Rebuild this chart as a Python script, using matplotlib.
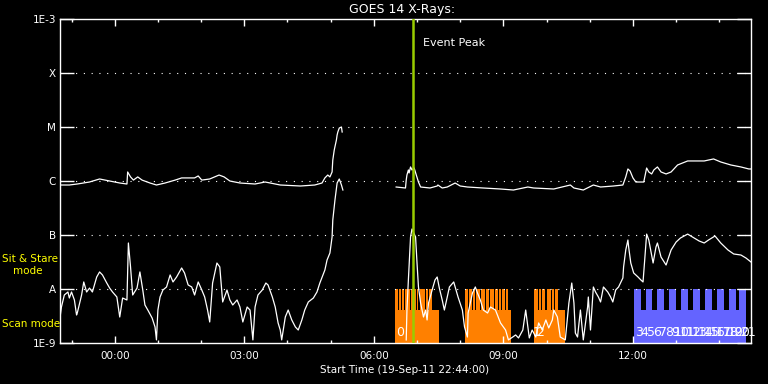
import numpy as np
import matplotlib
matplotlib.use('Agg')
import matplotlib.pyplot as plt
from matplotlib.ticker import NullLocator, FixedLocator

# time in minutes after 00:00 (20-Sep-11), flux in W/m^2
# 1-8 A channel, before and after the data gap
long_t1 = [-77, -63, -52, -35, -21, -7, 7, 17, 18, 22, 26, 32, 38, 49, 58, 70, 84, 93, 111, 116,
           121, 132, 145, 152, 160, 174, 195, 209, 230, 258, 278, 288, 292, 296, 299, 302, 303, 305,
           308, 309, 310, 312, 315, 316]
long_f1 = [8.43e-7, 8.43e-7, 8.80e-7, 9.58e-7, 1.09e-6, 1.00e-6, 9.18e-7, 8.80e-7, 1.47e-6, 1.19e-6,
           1.04e-6, 1.19e-6, 1.04e-6, 9.18e-7, 8.43e-7, 9.18e-7, 1.04e-6, 1.14e-6, 1.14e-6, 1.24e-6,
           1.04e-6, 1.09e-6, 1.29e-6, 1.19e-6, 1.00e-6, 9.18e-7, 8.80e-7, 9.58e-7, 8.43e-7, 8.08e-7,
           8.43e-7, 9.18e-7, 1.14e-6, 1.29e-6, 1.19e-6, 1.47e-6, 2.45e-6, 3.75e-6, 5.75e-6, 7.11e-6,
           8.08e-6, 9.58e-6, 1.00e-5, 8.08e-6]
long_t2 = [391, 404, 405, 406, 408, 409, 411, 413, 416, 419, 422, 425, 438, 448, 449, 455, 462, 473,
           480, 490, 512, 536, 554, 574, 582, 610, 633, 638, 651, 665, 675, 693, 706, 710, 713, 716,
           720, 724, 735, 739, 742, 746, 749, 754, 759, 766, 773, 782, 796, 807, 819, 832, 842, 856,
           870, 881, 885]
long_f2 = [7.74e-7, 7.42e-7, 1.04e-6, 1.29e-6, 1.60e-6, 1.41e-6, 1.82e-6, 1.60e-6, 1.74e-6, 1.29e-6,
           9.58e-7, 7.74e-7, 7.42e-7, 8.08e-7, 8.43e-7, 7.42e-7, 7.74e-7, 9.18e-7, 8.08e-7, 7.74e-7,
           7.42e-7, 7.11e-7, 6.81e-7, 7.74e-7, 7.42e-7, 7.11e-7, 8.43e-7, 7.42e-7, 6.81e-7, 8.43e-7,
           7.74e-7, 8.08e-7, 8.43e-7, 1.19e-6, 1.67e-6, 1.53e-6, 1.14e-6, 9.58e-7, 9.58e-7, 1.74e-6,
           1.47e-6, 1.35e-6, 1.60e-6, 1.82e-6, 1.47e-6, 1.35e-6, 1.47e-6, 1.98e-6, 2.35e-6, 2.35e-6,
           2.35e-6, 2.56e-6, 2.25e-6, 1.98e-6, 1.82e-6, 1.67e-6, 1.67e-6]

# 0.5-4 A channel
short_t1 = [-77, -74, -70, -65, -63, -60, -56, -53, -52, -46, -43, -39, -35, -31, -25, -21, -17, -11,
            -7, -3, 3, 7, 11, 17, 19, 22, 25, 31, 35, 39, 42, 46, 52, 56, 58, 60, 63, 67, 72, 77,
            81, 86, 93, 97, 102, 107, 111, 116, 121, 125, 129, 132, 136, 142, 146, 150, 156, 160,
            164, 170, 174, 178, 184, 188, 192, 195, 199, 205, 210, 213, 219, 223, 227, 230, 232,
            237, 241, 246, 251, 255, 260, 264, 269, 276, 281, 285, 292, 295, 299, 302, 303, 306,
            309, 312, 315, 317]
short_f1 = [2.35e-9, 4.64e-9, 7.74e-9, 8.80e-9, 6.81e-9, 8.80e-9, 6.26e-9, 3.30e-9, 3.59e-9, 7.74e-9,
            1.35e-8, 8.80e-9, 1.04e-8, 8.80e-9, 1.67e-8, 2.07e-8, 1.82e-8, 1.29e-8, 1.04e-8, 8.80e-9,
            7.11e-9, 3.03e-9, 6.81e-9, 6.26e-9, 7.11e-8, 2.56e-8, 7.74e-9, 1.04e-8, 2.07e-8, 9.58e-9,
            5.06e-9, 4.08e-9, 2.90e-9, 1.98e-9, 1.14e-9, 4.08e-9, 7.11e-9, 9.58e-9, 1.09e-8, 1.82e-8,
            1.35e-8, 1.67e-8, 2.45e-8, 1.98e-8, 1.19e-8, 1.09e-8, 7.74e-9, 1.35e-8, 9.58e-9, 7.11e-9,
            4.08e-9, 2.45e-9, 1.29e-8, 3.03e-8, 2.56e-8, 5.75e-9, 9.58e-9, 6.26e-9, 5.06e-9, 6.26e-9,
            4.64e-9, 2.45e-9, 4.64e-9, 4.08e-9, 1.14e-9, 4.64e-9, 7.74e-9, 9.58e-9, 1.29e-8, 1.19e-8,
            7.11e-9, 4.64e-9, 2.35e-9, 1.74e-9, 1.14e-9, 3.03e-9, 4.08e-9, 2.67e-9, 1.98e-9, 1.74e-9,
            2.67e-9, 4.08e-9, 5.75e-9, 6.81e-9, 8.80e-9, 1.29e-8, 2.25e-8, 3.44e-8, 4.64e-8, 9.18e-8,
            1.90e-7, 4.45e-7, 9.18e-7, 1.09e-6, 8.43e-7, 6.81e-7]
short_t2 = [405, 406, 408, 411, 413, 418, 420, 422, 425, 429, 432, 434, 436, 441, 445, 448, 451, 455,
            458, 462, 465, 471, 473, 477, 483, 486, 490, 491, 497, 501, 504, 508, 512, 518, 522, 529,
            536, 543, 547, 553, 557, 561, 567, 571, 574, 576, 580, 585, 589, 594, 599, 603, 608, 610,
            615, 619, 626, 631, 635, 638, 640, 643, 647, 651, 657, 658, 661, 665, 668, 672, 675, 679,
            685, 689, 692, 696, 700, 706, 707, 710, 713, 714, 717, 721, 727, 731, 734, 736, 739, 742,
            748, 752, 754, 759, 766, 773, 780, 786, 796, 805, 812, 819, 825, 834, 842, 852, 860, 870,
            877, 884]
short_f2 = [1.14e-9, 4.08e-9, 1.47e-8, 9.18e-8, 1.29e-7, 9.18e-8, 3.03e-8, 1.09e-8, 5.51e-9, 3.03e-9,
            4.08e-9, 2.67e-9, 5.51e-9, 9.58e-9, 1.47e-8, 1.67e-8, 1.04e-8, 6.26e-9, 4.08e-9, 7.11e-9,
            1.09e-8, 1.35e-8, 1.09e-8, 7.11e-9, 4.08e-9, 1.98e-9, 1.29e-9, 3.59e-9, 8.43e-9, 1.09e-8,
            8.43e-9, 6.26e-9, 4.08e-9, 3.59e-9, 4.64e-9, 4.08e-9, 2.35e-9, 1.74e-9, 1.14e-9, 1.29e-9,
            1.41e-9, 1.24e-9, 1.74e-9, 4.08e-9, 1.98e-9, 1.24e-9, 1.74e-9, 1.29e-9, 2.35e-9, 1.74e-9,
            2.67e-9, 1.90e-9, 2.67e-9, 4.08e-9, 3.03e-9, 1.29e-9, 1.14e-9, 5.51e-9, 1.29e-8, 5.51e-9,
            1.53e-9, 1.29e-9, 4.08e-9, 1.14e-9, 4.64e-9, 7.11e-9, 1.74e-9, 1.09e-8, 8.80e-9, 7.11e-9,
            5.75e-9, 1.09e-8, 8.80e-9, 7.11e-9, 5.75e-9, 9.58e-9, 1.09e-8, 1.60e-8, 2.56e-8, 5.28e-8,
            8.08e-8, 6.00e-8, 3.03e-8, 1.98e-8, 1.67e-8, 1.47e-8, 1.35e-8, 3.03e-8, 1.04e-7, 8.08e-8,
            3.03e-8, 6.00e-8, 7.11e-8, 3.91e-8, 2.78e-8, 5.28e-8, 7.42e-8, 8.80e-8, 1.04e-7, 8.80e-8,
            7.74e-8, 7.11e-8, 8.08e-8, 9.58e-8, 7.11e-8, 5.28e-8, 4.45e-8, 4.26e-8, 3.75e-8, 3.16e-8]

# observing mode bars
ss_base_start = [390, 487, 583]
ss_base_end = [450, 550, 626]
ss_start = [390, 394.5, 399.5, 403.5, 411.5, 419.5, 423.5, 432.5, 436.5,
            487, 492, 497.5, 502.5, 509, 515.5, 521.5, 528.5, 533.5, 538.5, 543.5,
            583, 589.5, 594, 600, 607, 611.5]
ss_end = [393, 398, 402, 410, 418, 422, 431, 435, 441,
          490.5, 496, 501, 507.5, 514, 520, 527, 532, 537, 542, 546,
          588, 592.5, 598.5, 605.5, 610, 616]
ss_labels = ['0', '1', '2']
ss_label_t = [397, 586, 591]

scan_base_start = 721
scan_base_end = 874
scan_start = [721, 737.6, 754.1, 770.7, 787.3, 803.9, 820.4, 837, 853.6, 867.5]
scan_width = 9.5
scan_labels = [str(n) for n in range(3, 22)]
scan_label_t = [728, 736, 745, 753, 762, 770, 779, 787, 796, 804, 812, 821, 829, 838, 846, 855,
                863, 872, 880]

base_top = 4.08e-9
tall_top = 1e-8
floor = 1e-9
event_t = 415

levels = [1e-9, 1e-8, 1e-7, 1e-6, 1e-5, 1e-4, 1e-3]
level_names = ['1E-9', 'A', 'B', 'C', 'M', 'X', '1E-3']
hour_ticks = [0, 180, 360, 540, 720]
hour_labels = ['00:00', '03:00', '06:00', '09:00', '12:00']

fig = plt.figure(figsize=(7.68, 3.84), dpi=100, facecolor='black')
ax = fig.add_axes([60 / 768, 41 / 384, 691 / 768, 324 / 384], facecolor='black')
ax.set_yscale('log')
ax.set_xlim(-76, 884)
ax.set_ylim(1e-9, 1e-3)

orange = '#ff8000'
blue = '#6464ff'
for s, e in zip(ss_base_start, ss_base_end):
    ax.bar(s, base_top - floor, width=e - s, bottom=floor, align='edge', color=orange, lw=0, zorder=1)
for s, e in zip(ss_start, ss_end):
    ax.bar(s, tall_top - floor, width=e - s, bottom=floor, align='edge', color=orange, lw=0, zorder=1)
ax.bar(scan_base_start, base_top - floor, width=scan_base_end - scan_base_start, bottom=floor,
       align='edge', color=blue, lw=0, zorder=1)
for s in scan_start:
    ax.bar(s, tall_top - floor, width=scan_width, bottom=floor, align='edge', color=blue, lw=0, zorder=1)

for lvl in levels[1:-1]:
    ax.axhline(lvl, color='white', lw=0.8, ls=(0, (1, 6)), zorder=2)

ax.plot(long_t1, long_f1, color='white', lw=0.9, zorder=3)
ax.plot(long_t2, long_f2, color='white', lw=0.9, zorder=3)
ax.plot(short_t1, short_f1, color='white', lw=0.9, zorder=3)
ax.plot(short_t2, short_f2, color='white', lw=0.9, zorder=3)

for t, lab in zip(ss_label_t, ss_labels):
    ax.text(t, 1.55e-9, lab, color='white', fontsize=9, ha='center', va='center', zorder=4)
for t, lab in zip(scan_label_t, scan_labels):
    ax.text(t, 1.55e-9, lab, color='white', fontsize=9, ha='center', va='center', zorder=4,
            clip_on=False)

ax.axvline(event_t, color='#99cc00', lw=1.8, zorder=5)
ax.text(event_t + 14, 3.6e-4, 'Event Peak', color='white', fontsize=8, ha='left', va='center')

for sp in ax.spines.values():
    sp.set_color('white')
    sp.set_linewidth(1.0)

ax.yaxis.set_major_locator(FixedLocator(levels))
ax.yaxis.set_minor_locator(NullLocator())
ax.set_yticklabels(level_names)
ax.tick_params(axis='y', which='major', direction='in', length=10, width=1, colors='white',
               right=True, labelsize=7.5, pad=3)
ax.set_xticks(hour_ticks)
ax.set_xticklabels(hour_labels)
ax.xaxis.set_minor_locator(FixedLocator(np.arange(-60, 900, 60)))
ax.tick_params(axis='x', which='major', direction='in', length=5, width=1, colors='white',
               top=True, labelsize=7.5, pad=6)
ax.tick_params(axis='x', which='minor', direction='in', length=2.2, width=1, colors='white', top=True)

fig.text(402 / 768, 1 - 10 / 384, 'GOES 14 X-Rays:', color='white', fontsize=9, ha='center', va='center')
fig.text(405 / 768, 1 - 370 / 384, 'Start Time (19-Sep-11 22:44:00)', color='white', fontsize=7.5,
         ha='center', va='center')
fig.text(2 / 768, 1 - 259 / 384, 'Sit & Stare', color='yellow', fontsize=7.5, ha='left', va='center')
fig.text(13 / 768, 1 - 271 / 384, 'mode', color='yellow', fontsize=7.5, ha='left', va='center')
fig.text(2 / 768, 1 - 324 / 384, 'Scan mode', color='yellow', fontsize=7.5, ha='left', va='center')

fig.savefig('out.png', dpi=100, facecolor='black')
